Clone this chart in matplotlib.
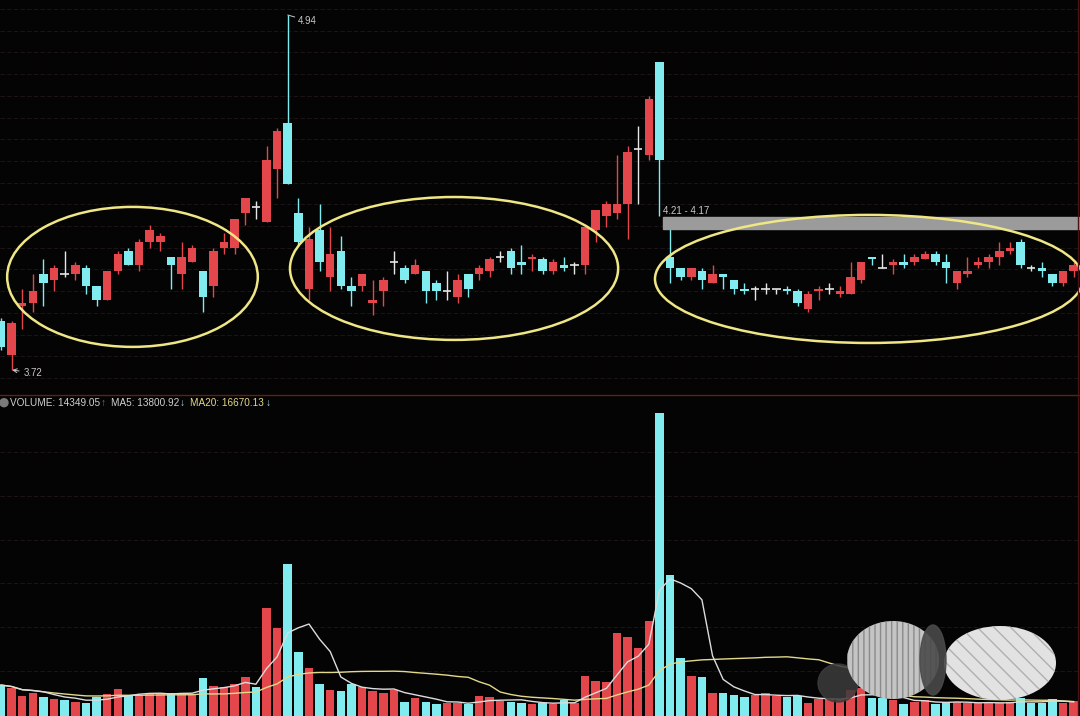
import numpy as np
import pandas as pd
import matplotlib
matplotlib.use('Agg')
import matplotlib.pyplot as plt
from matplotlib.patches import Ellipse, Rectangle
from matplotlib.lines import Line2D

plt.rcParams['font.family'] = ['Liberation Sans', 'DejaVu Sans']

# 日K数据 (从图上读出来的)
opens = [3.89, 3.77, 3.94, 3.95, 4.05, 4.03, 4.05, 4.05, 4.07, 4.01,
         3.96, 4.06, 4.13, 4.08, 4.16, 4.16, 4.11, 4.05, 4.09, 4.06,
         4.01, 4.14, 4.14, 4.26, 4.28, 4.23, 4.41, 4.57, 4.26, 4.00,
         4.20, 4.04, 4.13, 4.01, 4.01, 3.95, 3.99, 4.09, 4.07, 4.05,
         4.06, 4.02, 3.99, 3.97, 4.05, 4.05, 4.06, 4.11, 4.13, 4.09,
         4.10, 4.10, 4.06, 4.08, 4.08, 4.08, 4.20, 4.25, 4.26, 4.29,
         4.48, 4.46, 4.78, 4.11, 4.07, 4.04, 4.06, 4.02, 4.05, 4.03,
         4.00, 4.00, 4.00, 4.00, 4.00, 3.99, 3.93, 3.99, 4.00, 3.98,
         3.98, 4.03, 4.11, 4.07, 4.08, 4.09, 4.09, 4.10, 4.12, 4.09,
         4.02, 4.05, 4.08, 4.09, 4.11, 4.13, 4.16, 4.07, 4.07, 4.05,
         4.02, 4.06]
highs = [3.90, 3.89, 4.00, 4.05, 4.10, 4.08, 4.13, 4.09, 4.08, 4.01,
         4.06, 4.13, 4.14, 4.17, 4.22, 4.19, 4.11, 4.16, 4.15, 4.06,
         4.14, 4.19, 4.24, 4.31, 4.30, 4.49, 4.55, 4.94, 4.31, 4.21,
         4.29, 4.21, 4.18, 4.04, 4.05, 4.03, 4.04, 4.13, 4.08, 4.10,
         4.06, 4.03, 4.06, 4.05, 4.05, 4.08, 4.11, 4.13, 4.14, 4.15,
         4.12, 4.11, 4.10, 4.11, 4.09, 4.21, 4.27, 4.30, 4.46, 4.49,
         4.56, 4.66, 4.78, 4.21, 4.07, 4.07, 4.07, 4.08, 4.05, 4.03,
         4.02, 4.01, 4.02, 4.00, 4.01, 4.00, 3.99, 4.01, 4.02, 4.01,
         4.09, 4.09, 4.11, 4.12, 4.10, 4.12, 4.12, 4.13, 4.13, 4.12,
         4.06, 4.11, 4.11, 4.12, 4.16, 4.16, 4.17, 4.08, 4.09, 4.05,
         4.06, 4.09]
lows = [3.79, 3.72, 3.86, 3.92, 3.94, 3.99, 4.04, 4.03, 3.98, 3.94,
        3.96, 4.05, 4.08, 4.06, 4.14, 4.13, 4.00, 4.00, 4.09, 3.92,
        3.97, 4.12, 4.12, 4.22, 4.24, 4.23, 4.31, 4.36, 4.15, 3.96,
        4.06, 3.99, 4.00, 3.94, 3.99, 3.91, 3.94, 4.05, 4.02, 4.05,
        3.95, 3.96, 3.96, 3.95, 3.97, 4.03, 4.04, 4.09, 4.05, 4.05,
        4.06, 4.05, 4.05, 4.06, 4.05, 4.05, 4.16, 4.21, 4.24, 4.17,
        4.29, 4.44, 4.25, 4.02, 4.03, 4.03, 4.00, 4.02, 4.00, 3.98,
        3.98, 3.96, 3.98, 3.98, 3.98, 3.94, 3.92, 3.96, 3.98, 3.97,
        3.98, 4.02, 4.08, 4.07, 4.05, 4.07, 4.08, 4.10, 4.08, 4.02,
        4.00, 4.04, 4.07, 4.07, 4.08, 4.12, 4.07, 4.06, 4.04, 4.01,
        4.01, 4.04]
closes = [3.80, 3.88, 3.95, 3.99, 4.02, 4.07, 4.05, 4.08, 4.01, 3.96,
          4.06, 4.12, 4.08, 4.16, 4.20, 4.18, 4.08, 4.11, 4.14, 3.97,
          4.13, 4.16, 4.24, 4.31, 4.28, 4.44, 4.54, 4.36, 4.16, 4.17,
          4.09, 4.12, 4.01, 3.99, 4.05, 3.96, 4.03, 4.09, 4.03, 4.08,
          3.99, 3.99, 3.99, 4.03, 4.00, 4.07, 4.10, 4.11, 4.07, 4.08,
          4.11, 4.06, 4.09, 4.07, 4.08, 4.21, 4.27, 4.29, 4.29, 4.47,
          4.48, 4.65, 4.44, 4.07, 4.04, 4.07, 4.03, 4.05, 4.04, 4.00,
          3.99, 4.00, 4.00, 4.00, 3.99, 3.95, 3.98, 4.00, 4.00, 3.99,
          4.04, 4.09, 4.10, 4.07, 4.09, 4.08, 4.11, 4.12, 4.09, 4.07,
          4.06, 4.06, 4.09, 4.11, 4.13, 4.14, 4.08, 4.07, 4.06, 4.02,
          4.06, 4.08]
volumes = [29600, 26800, 19100, 22000, 18200, 16300, 15300, 13400, 12400, 18200,
           21000, 25800, 19100, 20100, 22000, 22000, 22000, 22000, 21000, 36300,
           28700, 27700, 30600, 37300, 27700, 103200, 84100, 145300, 61200, 45900,
           30600, 24900, 23900, 30600, 27700, 23900, 22000, 24900, 13400, 17200,
           13400, 11500, 12400, 12400, 11500, 19100, 18200, 14300, 13400, 12400,
           11500, 12400, 11500, 15300, 12400, 38200, 33500, 32500, 79300, 75500,
           65000, 90800, 289700, 134800, 55400, 38200, 37300, 22000, 22000, 20100,
           18200, 20100, 22000, 19100, 18200, 19100, 12400, 16300, 16300, 16300,
           24900, 26800, 17200, 17200, 15300, 11500, 13400, 15300, 11500, 13400,
           13400, 12400, 12400, 12400, 12400, 13400, 17200, 12400, 12400, 16300,
           12400, 14349.05]

RED = '#e3474c'
CYAN = '#80ecef'
WHITE = '#e6e6e6'
BG = '#040404'
GRID = '#1c1414'
W, H = 1080, 716

df = pd.DataFrame({'open': opens, 'high': highs, 'low': lows, 'close': closes, 'vol': volumes})
df['ma5'] = df['vol'].rolling(5, min_periods=1).mean()
df['ma20'] = df['vol'].rolling(20, min_periods=1).mean()
x = np.arange(len(df))

fig = plt.figure(figsize=(10.8, 7.16), dpi=100, facecolor=BG)
ax = fig.add_axes([0, 321 / H, 1, 395 / H])
axv = fig.add_axes([0, 0, 1, 321 / H])
for a in (ax, axv):
    a.set_facecolor(BG)
    a.axis('off')
    a.set_xlim(-0.094, 101.6)
ax.set_ylim(3.6342, 4.9915)
axv.set_ylim(0, 306900)

# 网格线
for k in range(18):
    f = 1 - (9 + 21.7 * k) / 395
    ax.plot([0, 1], [f, f], transform=ax.transAxes, color=GRID, lw=0.8, ls=(0, (4, 2)), zorder=0)
for k in range(6):
    f = (H - (452 + 43.8 * k)) / 321
    axv.plot([0, 1], [f, f], transform=axv.transAxes, color=GRID, lw=0.8, ls=(0, (4, 2)), zorder=0)

# K线
vol_colors = []
for i, r in df.iterrows():
    o, h, l, c = r['open'], r['high'], r['low'], r['close']
    if c > o:
        col = RED
        vcol = RED
    elif c < o:
        col = CYAN
        vcol = CYAN
    else:
        col = WHITE
        prev = df['close'][i - 1] if i > 0 else c
        vcol = RED if c >= prev else CYAN
    vol_colors.append(vcol)
    ax.vlines(i, l, h, color=col, lw=1.0, zorder=2)
    if c == o:
        ax.hlines(c, i - 0.4, i + 0.4, color=col, lw=1.2, zorder=3)
    else:
        ax.bar(i, max(abs(c - o), 0.007), bottom=min(o, c), width=0.8, color=col, zorder=3)

# 成交量
axv.bar(x, df['vol'], width=0.8, color=vol_colors, zorder=2)
axv.plot(x, df['ma20'], color='#e2d98a', lw=1.0, zorder=3)
axv.plot(x, df['ma5'], color='#dcdcdc', lw=1.0, zorder=4)

# 圈
ell_col = '#efe685'
ax.add_patch(Ellipse((12.38, 4.040), 23.6, 0.481, fill=False, ec=ell_col, lw=1.8, zorder=5))
ax.add_patch(Ellipse((42.66, 4.069), 30.9, 0.491, fill=False, ec=ell_col, lw=1.8, zorder=5))
ax.add_patch(Ellipse((81.73, 4.033), 40.3, 0.440, fill=False, ec=ell_col, lw=1.8, zorder=5))

# 区间标记
ax.add_patch(Rectangle((62.33, 4.2046), 45, 0.0412, color='#9b9b9b', zorder=4))
fig.text(663 / W, 1 - 211 / H, '4.21 - 4.17', color='#c8c8c8', fontsize=7, va='center')

ax.annotate('4.94', xy=(27, 4.94), xytext=(7, -4), textcoords='offset points',
            color='#c8c8c8', fontsize=7, va='center',
            arrowprops=dict(arrowstyle='-', color='#c8c8c8', lw=0.7, shrinkA=0, shrinkB=0))
ax.annotate('3.72', xy=(1.05, 3.72), xytext=(8, -2), textcoords='offset points',
            color='#c8c8c8', fontsize=7, va='center',
            arrowprops=dict(arrowstyle='->', color='#c8c8c8', lw=0.7, shrinkA=1, shrinkB=0))

# 分割线
fig.add_artist(Line2D([0, 1], [1 - 395 / H] * 2, color='#6a1a1c', lw=1.0))
fig.add_artist(Line2D([1078 / W] * 2, [0, 1], color='#4a1214', lw=1.0))

# 成交量标题
ty = 1 - 402.7 / H
fig.add_artist(Ellipse((4 / W, ty), 8 / W, 8 / H, color='#7a7a7a'))
fig.text(10 / W, ty, 'VOLUME: 14349.05', color='#d0d0d0', fontsize=7.2, va='center')
fig.text(101 / W, ty, '↑', color=RED, fontsize=7.2, va='center')
fig.text(111 / W, ty, 'MA5: 13800.92', color='#d0d0d0', fontsize=7.2, va='center')
fig.text(180 / W, ty, '↓', color='#a8e4e4', fontsize=7.2, va='center')
fig.text(190 / W, ty, 'MA20: 16670.13', color='#e2d98a', fontsize=7.2, va='center')
fig.text(266 / W, ty, '↓', color='#a8e4e4', fontsize=7.2, va='center')

# 右下角涂抹
fig.add_artist(Ellipse((838 / W, 1 - 683 / H), 40 / W, 38 / H, color='#3c3c3c', alpha=0.85))
fig.add_artist(Ellipse((893 / W, 1 - 660 / H), 92 / W, 78 / H, fc='#c4c4c4', ec='#8a8a8a',
                       hatch='|||', lw=0))
fig.add_artist(Ellipse((1000 / W, 1 - 663 / H), 112 / W, 74 / H, fc='#e2e2e2', ec='#b0b0b0',
                       hatch='\\\\', lw=0))
fig.add_artist(Ellipse((933 / W, 1 - 660 / H), 26 / W, 70 / H, color='#4a4a4a', alpha=0.9))

plt.savefig('out.png', dpi=100, facecolor=BG)
